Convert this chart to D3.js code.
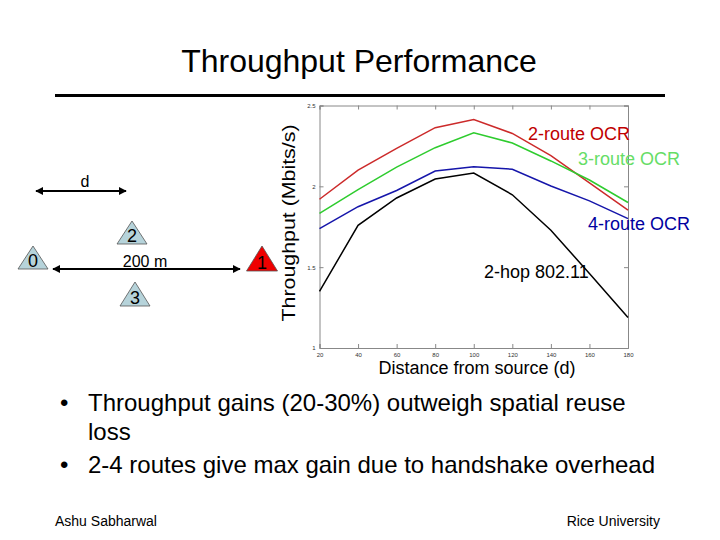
<!DOCTYPE html>
<html><head><meta charset="utf-8">
<script src="https://cdn.jsdelivr.net/npm/d3@7"></script>
<style>body{margin:0;background:#fff}svg{display:block}text{font-family:"Liberation Sans",Arial,sans-serif}</style>
</head><body>
<script>
const distances = [20,40,60,80,100,120,140,160,180];
const route2 = [1.92,2.10,2.235,2.363,2.413,2.327,2.19,2.022,1.853];
const route3 = [1.833,1.98,2.119,2.239,2.331,2.268,2.157,2.039,1.90];
const route4 = [1.738,1.874,1.974,2.095,2.121,2.106,2.002,1.91,1.80];
const hop80211 = [1.35,1.759,1.928,2.045,2.082,1.948,1.728,1.461,1.189];
const yTicks = [1,1.5,2,2.5];
const xTicks = [20,40,60,80,100,120,140,160,180];
const seriesNames = ["2-route OCR","3-route OCR","4-route OCR","2-hop 802.11"];

const W=720,H=540;
const svg=d3.select("body").append("svg").attr("width",W).attr("height",H);

// Title
svg.append("text").attr("x",359).attr("y",72).attr("text-anchor","middle")
  .attr("font-size",32).attr("fill","#000").text("Throughput Performance");
svg.append("line").attr("x1",55).attr("x2",665).attr("y1",95.5).attr("y2",95.5)
  .attr("stroke","#000").attr("stroke-width",3);

// Plot
const x=d3.scaleLinear().domain([20,180]).range([319.5,628]);
const y=d3.scaleLinear().domain([1,2.5]).range([348,105.5]);
const g=svg.append("g");
const tl=4;
g.append("g").attr("transform",`translate(0,${y(1)})`)
  .call(d3.axisBottom(x).tickValues(xTicks).tickSize(-tl).tickPadding(5).tickFormat(d3.format("d")));
g.append("g").attr("transform",`translate(0,${y(2.5)})`)
  .call(d3.axisTop(x).tickValues(xTicks).tickSize(-tl).tickFormat(""));
g.append("g").attr("transform",`translate(${x(20)},0)`)
  .call(d3.axisLeft(y).tickValues(yTicks).tickSize(-tl).tickPadding(4).tickFormat(d3.format("")));
g.append("g").attr("transform",`translate(${x(180)},0)`)
  .call(d3.axisRight(y).tickValues(yTicks).tickSize(-tl).tickFormat(""));
g.selectAll(".domain").attr("stroke","#888").attr("stroke-width",1);
g.selectAll(".tick line").attr("stroke","#888");
g.selectAll(".tick text").attr("font-size",6).attr("fill","#333");

const series=[
  {v:route2,c:"#cc2a2a"},
  {v:route3,c:"#2ecc2e"},
  {v:route4,c:"#1515aa"},
  {v:hop80211,c:"#000"}
];
const line=d3.line().x((d,i)=>x(distances[i])).y(d=>y(d));
series.forEach(s=>{
  g.append("path").datum(s.v).attr("d",line).attr("fill","none")
   .attr("stroke",s.c).attr("stroke-width",1.5);
});

// Series labels
const labs=[
  {t:seriesNames[0],x:528,y:140,c:"#c00000"},
  {t:seriesNames[1],x:578,y:165,c:"#66dd66"},
  {t:seriesNames[2],x:588,y:230,c:"#0000a0"},
  {t:seriesNames[3],x:484,y:278,c:"#000"}
];
labs.forEach(l=>svg.append("text").attr("x",l.x).attr("y",l.y).attr("font-size",18)
  .attr("fill",l.c).text(l.t));

// Axis labels
svg.append("text").attr("transform","translate(295,223) rotate(-90)").attr("text-anchor","middle")
  .attr("font-size",19).attr("textLength",197).attr("lengthAdjust","spacingAndGlyphs").text("Throughput (Mbits/s)");
svg.append("text").attr("x",477).attr("y",374).attr("text-anchor","middle")
  .attr("font-size",18).text("Distance from source (d)");

// Left diagram
const defs=svg.append("defs");
defs.append("marker").attr("id","ah").attr("viewBox","0 0 10 10").attr("refX",9).attr("refY",5)
  .attr("markerWidth",4).attr("markerHeight",4).attr("orient","auto-start-reverse")
  .append("path").attr("d","M0,0 L10,5 L0,10 z").attr("fill","#000");
function arrow(x1,x2,yy){
  svg.append("line").attr("x1",x1).attr("x2",x2).attr("y1",yy).attr("y2",yy)
   .attr("stroke","#000").attr("stroke-width",2)
   .attr("marker-start","url(#ah)").attr("marker-end","url(#ah)");
}
arrow(36,126,191);
svg.append("text").attr("x",85).attr("y",187).attr("text-anchor","middle").attr("font-size",16).text("d");
arrow(53,240,269);
svg.append("text").attr("x",145).attr("y",267).attr("text-anchor","middle").attr("font-size",16).text("200 m");
function tri(cx,ty,by,w,fill,label){
  svg.append("path").attr("d",`M${cx},${ty} L${cx+w/2},${by} L${cx-w/2},${by} Z`)
    .attr("fill",fill).attr("stroke","#555").attr("stroke-width",0.8);
  svg.append("text").attr("x",cx).attr("y",by-2).attr("text-anchor","middle")
    .attr("font-size",18).attr("fill","#000").text(label);
}
tri(33,246,269,30,"#b6d3da","0");
tri(132,221,244,30,"#b6d3da","2");
tri(135,282,306,30,"#b6d3da","3");
tri(262,246,271,31,"#ee0000","1");

// Bullets
const bl=[
  {b:true,t:"Throughput gains (20-30%) outweigh spatial reuse",y:411},
  {b:false,t:"loss",y:440},
  {b:true,t:"2-4 routes give max gain due to handshake overhead",y:473}
];
bl.forEach(l=>{
  if(l.b) svg.append("text").attr("x",60).attr("y",l.y).attr("font-size",24).text("•");
  svg.append("text").attr("x",88).attr("y",l.y).attr("font-size",24).text(l.t);
});
svg.append("text").attr("x",55).attr("y",526).attr("font-size",14).text("Ashu Sabharwal");
svg.append("text").attr("x",660).attr("y",526).attr("text-anchor","end").attr("font-size",14).text("Rice University");
</script>
</body></html>
